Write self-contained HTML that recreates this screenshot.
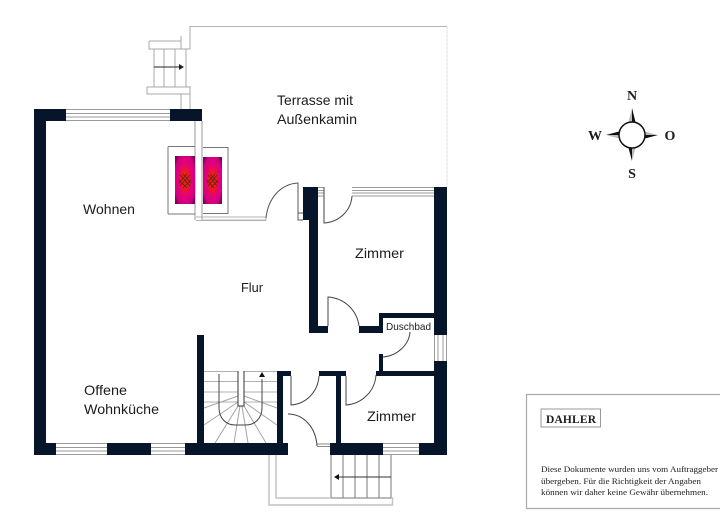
<!DOCTYPE html>
<html><head><meta charset="utf-8"><style>html,body{margin:0;padding:0;background:#fff;width:720px;height:530px;overflow:hidden}svg{display:block}
text{font-family:"Liberation Sans",sans-serif;fill:#1c1c1c}
.s{font-family:"Liberation Serif",serif}</style></head><body>
<svg width="720" height="530" viewBox="0 0 720 530" xmlns="http://www.w3.org/2000/svg">
<defs>
<radialGradient id="f" cx="50%" cy="50%" r="62%"><stop offset="0" stop-color="#f4200c"/><stop offset=".32" stop-color="#ee1a1c"/><stop offset=".55" stop-color="#e4007c"/><stop offset=".85" stop-color="#d0007e"/><stop offset="1" stop-color="#80005c"/></radialGradient>
</defs>
<!-- terrace -->
<g fill="none" stroke="#a8a8a8" stroke-width="1">
<path d="M190 26.500H447" stroke="#b4b4b4"/>
<path d="M447 26.500V187" stroke="#dcdcdc" stroke-dasharray="3 1"/>
<path d="M190 26V49M190 86V109M181 41V49M181 94V109"/>
<path d="M149 41H181V36M149 41V49H190M147 87V94H190M147 87H190"/>
<path d="M154 49V87M164 49V87M175 49V87M186 49V87"/>
<path d="M195 121V220M202 121V220" stroke="#999"/>
<path d="M168 146.500H195M168 146.500V214M168 214H195M203 147.500H228V213.500H203" stroke="#777"/>
<path d="M196 217H266M196 220.500H266V217M202 220H266" stroke="#b4b4b4"/>
<path d="M266 218C268 199 280 184 298 183V220H303M298 213H303" stroke="#555"/>
</g>
<path d="M154 67H182" stroke="#222" stroke-width="1"/><path d="M184 67l-5-3v6z" fill="#222"/>
<!-- fireplace -->
<rect x="175" y="156" width="20" height="48" fill="url(#f)"/>
<rect x="203" y="157" width="19" height="47" fill="url(#f)"/>
<g stroke="#4a2a18" stroke-width=".7" fill="none">
<path d="M180 175l10 11M183 174l8 9M190 175l-10 11M187 174l-8 9M179 180l8 8M191 180l-8 8"/>
<path d="M208 175l9 11M210 174l8 9M217 175l-9 11M215 174l-8 9M207 180l7 8M218 180l-7 8"/>
</g>
<!-- walls -->
<g fill="#07152b">
<path d="M34 109H66V121H46V443H56V455H34Z"/>
<rect x="170" y="109" width="32" height="12"/>
<rect x="107" y="443" width="44" height="12"/>
<rect x="185" y="443" width="103" height="12"/>
<rect x="197" y="335" width="7" height="108"/>
<path d="M277 371H291V376H283V443H277Z"/>
<path d="M319 371H346V376H341V443H336V376H319Z"/>
<path d="M303 187H318V333H328V326H318H309V220H303Z"/>
<rect x="309" y="326" width="19" height="7"/>
<path d="M359 326H379V313H434V187H447V335H434V318H383V333H359Z"/>
<rect x="379" y="354" width="4" height="18"/>
<path d="M376 371H434V361H447V455H419V443H434V376H376Z"/>
<rect x="330" y="443" width="53" height="12"/>
</g>
<!-- windows -->
<g fill="none" stroke="#9a9a9a" stroke-width="1">
<path d="M66 109.500H170M66 113.500H170M66 117H170M66 120.500H170"/>
<path d="M56 443.500H107M56 447.500H107M56 451H107M56 454.500H107"/>
<path d="M151 443.500H185M151 447.500H185M151 451H185M151 454.500H185"/>
<path d="M383 443.500H419M383 447.500H419M383 451H419M383 454.500H419"/>
<path d="M352 187.500H434M352 190.500H434M352 193H434M352 196H434"/>
<path d="M318 187.500H324M318 190.500H324M318 193H324M318 196H324"/>
<path d="M434.500 335V361M438 335V361M443 335V361M446.500 335V361"/>
<!-- stairs -->
<path d="M204 371.500H277M204 381.500H238M244 381.500H277M204 392H238M244 392H277M204 402H238M244 402H277" stroke="#b0b0b0"/>
<path d="M238 396L204 408M238 402L204 425M238 406L215 443M240 406L234 443M242 406L248 443M244 406L266 443M244 402L277 425M244 396L277 408" stroke="#a5a5a5"/>
<!-- rear stairs -->
<path d="M331 455V498M343 455V498M355 455V498M367 455V498M379 455V498M391 455V498M331 498H391" stroke="#777"/>
<path d="M276 455V498H331M391 498H392.500V505H269V455" stroke="#c4c4c4" stroke-width="1.500"/>
<path d="M317 446.500H330M317 444H330" stroke="#888"/>
</g>
<path d="M238 371V406H244V371" fill="#fff" stroke="#333" stroke-width="1"/>
<path d="M219 374V408C219 418 226 425 235 425H246C255 425 262 418 262 408V379" fill="none" stroke="#444" stroke-width="1"/>
<path d="M262 372l-3 5h6z" fill="#111"/>
<path d="M391 477H336" stroke="#333" stroke-width="1"/><path d="M334 477l5-3v6z" fill="#111"/>
<!-- doors -->
<g fill="none" stroke="#444" stroke-width="1">
<path d="M324 187V223C339 222 351 211 352 196"/>
<path d="M328 326V297C344 298 357 310 359 326"/>
<path d="M410 332C409 345 397 356 383 357"/>
<path d="M291 376V405C306 404 318 392 319 376"/>
<path d="M346 376V405C361 404 375 392 376 375"/>
<path d="M288 414C304 414 316 428 317 446"/>
</g>
<!-- labels -->
<text x="277" y="105" font-size="14" textLength="76" lengthAdjust="spacingAndGlyphs">Terrasse mit</text>
<text x="277" y="124" font-size="14" textLength="80" lengthAdjust="spacingAndGlyphs">Außenkamin</text>
<text x="83" y="214" font-size="14" textLength="52" lengthAdjust="spacingAndGlyphs">Wohnen</text>
<text x="241" y="292" font-size="13" textLength="22" lengthAdjust="spacingAndGlyphs">Flur</text>
<text x="355" y="258" font-size="14" textLength="49" lengthAdjust="spacingAndGlyphs">Zimmer</text>
<text x="386" y="330" font-size="10.500" textLength="45" lengthAdjust="spacingAndGlyphs">Duschbad</text>
<text x="367" y="421" font-size="14" textLength="49" lengthAdjust="spacingAndGlyphs">Zimmer</text>
<text x="84" y="395" font-size="14" textLength="43" lengthAdjust="spacingAndGlyphs">Offene</text>
<text x="84" y="414" font-size="14" textLength="75" lengthAdjust="spacingAndGlyphs">Wohnküche</text>
<!-- compass -->
<path d="M632 108V122H628.500Z M658 135H645V131.500Z M632 161V148H635.500Z M606 135H619V138.500Z" fill="#bbb"/>
<path d="M632 108L635.500 122H632Z M658 135L645 138.500V135Z M632 161L628.500 148H632Z M606 135L619 131.500V135Z" fill="#111"/>
<circle cx="632" cy="135" r="13" fill="#fff" stroke="#111" stroke-width="1.500"/>
<text class="s" x="632" y="100" font-size="14" font-weight="bold" text-anchor="middle" fill="#111">N</text>
<text class="s" x="632" y="178" font-size="14" font-weight="bold" text-anchor="middle" fill="#111">S</text>
<text class="s" x="595" y="140" font-size="14" font-weight="bold" text-anchor="middle" fill="#111">W</text>
<text class="s" x="670" y="140" font-size="14" font-weight="bold" text-anchor="middle" fill="#111">O</text>
<!-- legend box -->
<path d="M720 394.500H526.500V508.500H720" fill="#fff" stroke="#aaa" stroke-width="1.200"/>
<rect x="541" y="409" width="59.500" height="18" fill="#fff" stroke="#999" stroke-width="1"/>
<text class="s" x="546" y="423" font-size="11.500" font-weight="bold" textLength="50" fill="#222">DAHLER</text>
<text class="s" x="541" y="472" font-size="8.500" textLength="177" lengthAdjust="spacingAndGlyphs" fill="#333">Diese Dokumente wurden uns vom Auftraggeber</text>
<text class="s" x="541" y="484" font-size="8.500" textLength="160" lengthAdjust="spacingAndGlyphs" fill="#333">übergeben. Für die Richtigkeit der Angaben</text>
<text class="s" x="541" y="495" font-size="8.500" textLength="167" lengthAdjust="spacingAndGlyphs" fill="#333">können wir daher keine Gewähr übernehmen.</text>
</svg>
</body></html>
